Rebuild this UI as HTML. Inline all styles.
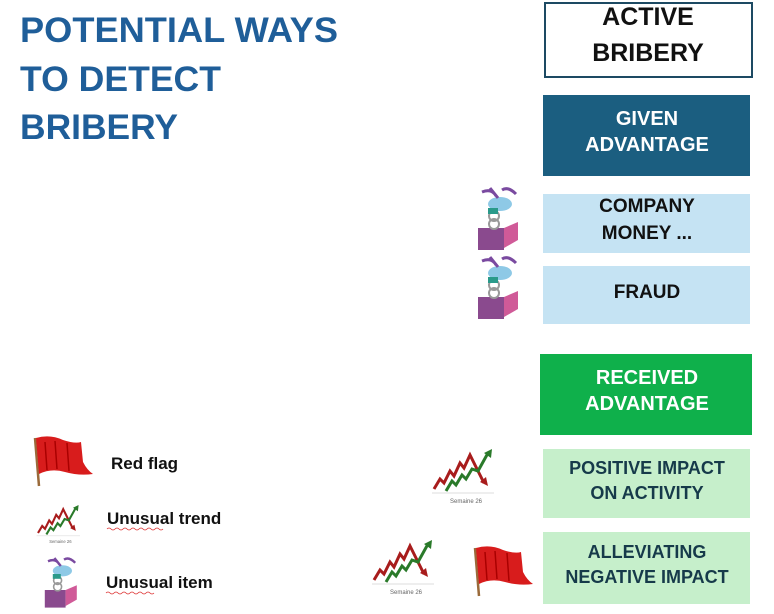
<!DOCTYPE html>
<html><head><meta charset="utf-8"><style>
html,body{margin:0;padding:0;background:#fff;width:774px;height:614px;overflow:hidden}
</style></head><body>
<svg width="774" height="614" viewBox="0 0 774 614" xmlns="http://www.w3.org/2000/svg" font-family="Liberation Sans, sans-serif" font-weight="bold">
<defs>
<g id="flag">
<line x1="0" y1="2" x2="4" y2="50" stroke="#9a6a3a" stroke-width="2.5"/>
<path d="M1 2 Q15 -2 28 4 Q40 8 46 6 L48 26 Q52 34 58 38 Q44 40 30 36 Q16 32 4 38 Z" fill="#d81c1c"/>
<path d="M10 6 L12 34 M20 5 L22 33 M32 7 L34 35" stroke="#a00" stroke-width="1.5" fill="none"/>
</g>
<g id="trend">
<polyline points="0,40 6,30 10,34 16,22 20,27 26,14 30,19 36,6 42,18 50,34" fill="none" stroke="#a81c1c" stroke-width="3"/>
<path d="M46 33 L54 37 L52 28 Z" fill="#a81c1c"/>
<polyline points="12,42 18,32 22,36 28,26 32,30 38,20 44,22 54,4" fill="none" stroke="#2a7a2a" stroke-width="3"/>
<path d="M50 4 L58 0 L57 9 Z" fill="#2a7a2a"/>
<line x1="-2" y1="44" x2="60" y2="44" stroke="#ddd" stroke-width="1"/>
<text x="16" y="54" font-size="6" font-weight="normal" fill="#666">Semaine 26</text>
</g>
<g id="jack">
<rect x="6" y="40" width="26" height="22" fill="#8a4a8e"/>
<path d="M32 40 L46 34 L46 52 L32 60 Z" fill="#d05a98"/>
<circle cx="22" cy="36" r="5" fill="none" stroke="#999" stroke-width="2"/>
<circle cx="22" cy="28" r="5" fill="none" stroke="#999" stroke-width="2"/>
<ellipse cx="28" cy="16" rx="12" ry="7" fill="#8ec9e6"/>
<path d="M10 4 Q20 0 24 8 M30 2 Q36 -2 44 6 M18 0 L26 10" stroke="#7a4aa0" stroke-width="3" fill="none"/>
<rect x="16" y="20" width="10" height="6" fill="#2a9a8a"/>
</g>
</defs>

<g fill="#1f5e99" font-size="35">
<text x="20" y="42" textLength="318" lengthAdjust="spacingAndGlyphs">POTENTIAL WAYS</text>
<text x="20" y="91" textLength="201" lengthAdjust="spacingAndGlyphs">TO DETECT</text>
<text x="20" y="139" textLength="158" lengthAdjust="spacingAndGlyphs">BRIBERY</text>
</g>

<rect x="545" y="3" width="207" height="74" fill="#fff" stroke="#1d4a63" stroke-width="2"/>
<g font-size="25" fill="#111" text-anchor="middle">
<text x="648" y="25">ACTIVE</text>
<text x="648" y="61">BRIBERY</text>
</g>

<rect x="543" y="95" width="207" height="81" fill="#1b5e80"/>
<g font-size="20" fill="#fff" text-anchor="middle">
<text x="647" y="125">GIVEN</text>
<text x="647" y="151">ADVANTAGE</text>
</g>

<rect x="543" y="194" width="207" height="59" fill="#c5e3f3"/>
<g font-size="19" fill="#111" text-anchor="middle">
<text x="647" y="212">COMPANY</text>
<text x="647" y="239">MONEY ...</text>
</g>

<rect x="543" y="266" width="207" height="58" fill="#c5e3f3"/>
<text x="647" y="298" font-size="19" fill="#111" text-anchor="middle">FRAUD</text>

<rect x="540" y="354" width="212" height="81" fill="#0fb04b"/>
<g font-size="20" fill="#fff" text-anchor="middle">
<text x="647" y="384">RECEIVED</text>
<text x="647" y="410">ADVANTAGE</text>
</g>

<rect x="543" y="449" width="207" height="69" fill="#c6efcb"/>
<g font-size="18" fill="#163a4a" text-anchor="middle">
<text x="647" y="474">POSITIVE IMPACT</text>
<text x="647" y="499">ON ACTIVITY</text>
</g>

<rect x="543" y="532" width="207" height="72" fill="#c6efcb"/>
<g font-size="18" fill="#163a4a" text-anchor="middle">
<text x="647" y="558">ALLEVIATING</text>
<text x="647" y="583">NEGATIVE IMPACT</text>
</g>

<use href="#jack" transform="translate(472,188)"/>
<use href="#jack" transform="translate(472,257)"/>
<use href="#trend" transform="translate(434,449)"/>
<use href="#trend" transform="translate(374,540)"/>
<use href="#flag" transform="translate(475,546)"/>

<use href="#flag" transform="translate(35,436) scale(1.0)"/>
<use href="#trend" transform="translate(38,505) scale(0.7)"/>
<use href="#jack" transform="translate(40,558) scale(0.8)"/>

<g font-size="17" fill="#111">
<text x="111" y="469">Red flag</text>
<text x="107" y="524">Unusual trend</text>
<text x="106" y="588">Unusual item</text>
</g>
<path d="M107 529 q2 -2 4 0 t4 0 t4 0 t4 0 t4 0 t4 0 t4 0 t4 0 t4 0 t4 0 t4 0 t4 0 t4 0 t4 0" stroke="#d33" stroke-width="0.8" fill="none"/>
<path d="M106 593 q2 -2 4 0 t4 0 t4 0 t4 0 t4 0 t4 0 t4 0 t4 0 t4 0 t4 0 t4 0 t4 0" stroke="#d33" stroke-width="0.8" fill="none"/>
</svg>
</body></html>
